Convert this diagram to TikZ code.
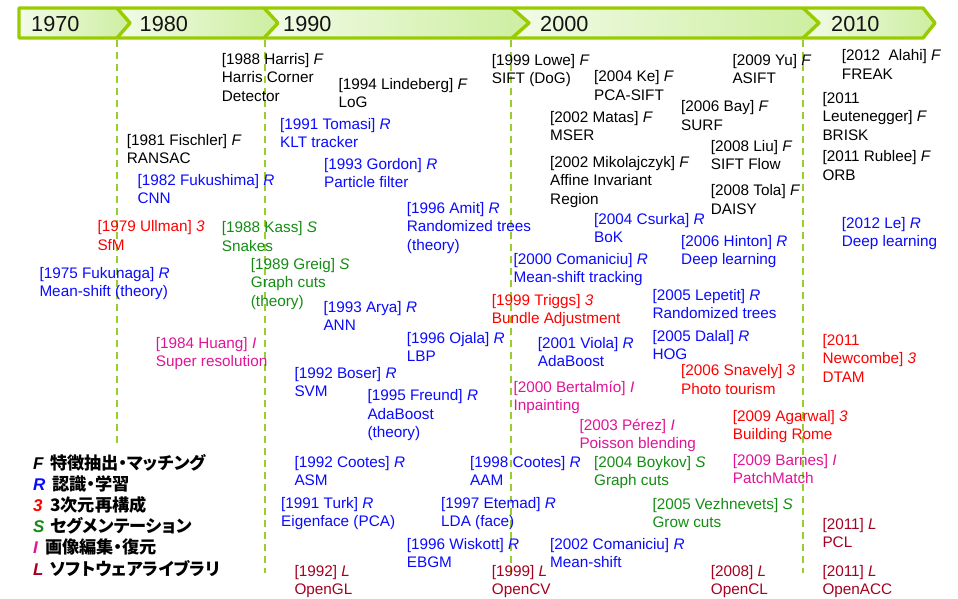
\documentclass[tikz,border=0pt]{standalone}
\usepackage{fontspec}
\setmainfont{Liberation Sans}
\newfontfamily\jp{Noto Sans CJK JP}[RawFeature=+palt]
\definecolor{barc}{RGB}{153,204,0}
\definecolor{dashc}{RGB}{154,205,50}
\definecolor{segl}{RGB}{242,251,232}
\definecolor{segr}{RGB}{205,238,160}
\definecolor{cF}{RGB}{0,0,0}
\definecolor{cR}{RGB}{10,10,255}
\definecolor{c3}{RGB}{255,0,0}
\definecolor{cS}{RGB}{20,140,20}
\definecolor{cI}{RGB}{225,20,150}
\definecolor{cL}{RGB}{165,0,33}
\tikzset{
  ent/.style={anchor=base west, align=left, inner sep=0pt, yshift=-18.6pt, font=\fontsize{15.3}{18.6}\selectfont},
  three/.style={yshift=-18.6pt},
  yr/.style={anchor=west, inner sep=0pt, font=\fontsize{21.7}{26}\selectfont, text={rgb,255:red,20;green,20;blue,20}},
  seg/.style={left color=segl, right color=segr, draw=none},
  barline/.style={draw=barc, line width=3.4pt, line join=round},
  decline/.style={draw=dashc, line width=1.8pt, dash pattern=on 7pt off 5pt},
  legl/.style={anchor=base west, inner sep=0pt, font=\fontsize{17}{17}\selectfont\bfseries\itshape},
  legt/.style={anchor=base west, inner sep=0pt, font=\jp\bfseries\fontsize{17.2}{18}\selectfont},
}
\begin{document}
\begin{tikzpicture}[x=1pt,y=-1pt]
\useasboundingbox (0,0) rectangle (958,598);
% timeline bar segments
\shade[seg] (19,8) -- (117,8) -- (130,23) -- (117,38) -- (19,38) -- cycle;
\shade[seg] (117,8) -- (264,8) -- (278,23) -- (264,38) -- (117,38) -- (130,23) -- cycle;
\shade[seg] (264,8) -- (512,8) -- (529,23) -- (512,38) -- (264,38) -- (278,23) -- cycle;
\shade[seg] (512,8) -- (803,8) -- (819,23) -- (803,38) -- (512,38) -- (529,23) -- cycle;
\shade[seg] (803,8) -- (923,8) -- (935,23) -- (923,38) -- (803,38) -- (819,23) -- cycle;
\draw[barline] (19,8) -- (923,8) -- (935,23) -- (923,38) -- (19,38) -- cycle;
\draw[barline] (117,8) -- (130,23) -- (117,38);
\draw[barline] (264,8) -- (278,23) -- (264,38);
\draw[barline] (512,8) -- (529,23) -- (512,38);
\draw[barline] (803,8) -- (819,23) -- (803,38);
% decade lines
\draw[decline] (117,40) -- (117,446);
\draw[decline] (265,40) -- (265,573);
\draw[decline] (511,40) -- (511,575);
\draw[decline] (803,40) -- (803,573);
% year labels
\node[yr] (y1970) at (31,24) {1970};
\node[yr] (y1980) at (139.5,24) {1980};
\node[yr] (y1990) at (283,24) {1990};
\node[yr] (y2000) at (540,24) {2000};
\node[yr] (y2010) at (831,24) {2010};
% F entries
\begin{scope}[every node/.style={ent, text=cF}]
\node[three] (harris) at (221.7,64) {[1988 Harris] \textit{F}\\Harris Corner\\Detector};
\node (linde) at (338.3,89) {[1994 Lindeberg] \textit{F}\\LoG};
\node (fisch) at (126.7,145) {[1981 Fischler] \textit{F}\\RANSAC};
\node (lowe) at (491.7,65) {[1999 Lowe] \textit{F}\\SIFT (DoG)};
\node (ke) at (594,81.7) {[2004 Ke] \textit{F}\\PCA-SIFT};
\node (yu) at (732.3,65) {[2009 Yu] \textit{F}\\ASIFT};
\node (alahi) at (841.7,60.7) {[2012\ \ Alahi] \textit{F}\\FREAK};
\node (bay) at (681,111.7) {[2006 Bay] \textit{F}\\SURF};
\node (matas) at (550,122.3) {[2002 Matas] \textit{F}\\MSER};
\node[three] (leut) at (822.3,103.3) {[2011\\Leutenegger] \textit{F}\\BRISK};
\node (liu) at (710.7,151) {[2008 Liu] \textit{F}\\SIFT Flow};
\node[three] (miko) at (550,167.3) {[2002 Mikolajczyk] \textit{F}\\Affine Invariant\\Region};
\node (rublee) at (822.3,161.7) {[2011 Rublee] \textit{F}\\ORB};
\node (tola) at (710.7,195.7) {[2008 Tola] \textit{F}\\DAISY};
\end{scope}
% R entries
\begin{scope}[every node/.style={ent, text=cR}]
\node (tomasi) at (280,129.3) {[1991 Tomasi] \textit{R}\\KLT tracker};
\node (gordon) at (324,169.3) {[1993 Gordon] \textit{R}\\Particle filter};
\node[three] (amit) at (406.7,213.3) {[1996 Amit] \textit{R}\\Randomized trees\\(theory)};
\node (fukushima) at (137.3,185) {[1982 Fukushima] \textit{R}\\CNN};
\node (fukunaga) at (39.3,278.3) {[1975 Fukunaga] \textit{R}\\Mean-shift (theory)};
\node (csurka) at (594,224.3) {[2004 Csurka] \textit{R}\\BoK};
\node (le) at (841.7,228.3) {[2012 Le] \textit{R}\\Deep learning};
\node (hinton) at (681,246) {[2006 Hinton] \textit{R}\\Deep learning};
\node (comtrack) at (513.3,264.3) {[2000 Comaniciu] \textit{R}\\Mean-shift tracking};
\node (arya) at (323.3,312.3) {[1993 Arya] \textit{R}\\ANN};
\node (ojala) at (406.7,343.3) {[1996 Ojala] \textit{R}\\LBP};
\node (viola) at (537.7,348.3) {[2001 Viola] \textit{R}\\AdaBoost};
\node (boser) at (294.3,378.3) {[1992 Boser] \textit{R}\\SVM};
\node[three] (freund) at (367.3,400.7) {[1995 Freund] \textit{R}\\AdaBoost\\(theory)};
\node (lepetit) at (652.3,300) {[2005 Lepetit] \textit{R}\\Randomized trees};
\node (dalal) at (652.3,341) {[2005 Dalal] \textit{R}\\HOG};
\node (cootesa) at (294.3,467.3) {[1992 Cootes] \textit{R}\\ASM};
\node (cootesb) at (470,467.3) {[1998 Cootes] \textit{R}\\AAM};
\node (turk) at (281,508.3) {[1991 Turk] \textit{R}\\Eigenface (PCA)};
\node (etemad) at (441,508.3) {[1997 Etemad] \textit{R}\\LDA (face)};
\node (wiskott) at (406.7,549) {[1996 Wiskott] \textit{R}\\EBGM};
\node (comshift) at (550,549) {[2002 Comaniciu] \textit{R}\\Mean-shift};
\end{scope}
% 3 entries
\begin{scope}[every node/.style={ent, text=c3}]
\node (ullman) at (97.3,231.7) {[1979 Ullman] \textit{3}\\SfM};
\node (triggs) at (491.7,305) {[1999 Triggs] \textit{3}\\Bundle Adjustment};
\node[three] (newcombe) at (822.3,345) {[2011\\Newcombe] \textit{3}\\DTAM};
\node (snavely) at (681,375.7) {[2006 Snavely] \textit{3}\\Photo tourism};
\node (agarwal) at (732.7,421) {[2009 Agarwal] \textit{3}\\Building Rome};
\end{scope}
% S entries
\begin{scope}[every node/.style={ent, text=cS}]
\node (kass) at (221.7,232.7) {[1988 Kass] \textit{S}\\Snakes};
\node[three] (greig) at (250.7,269) {[1989 Greig] \textit{S}\\Graph cuts\\(theory)};
\node (boykov) at (594,467.3) {[2004 Boykov] \textit{S}\\Graph cuts};
\node (vezh) at (652.3,509) {[2005 Vezhnevets] \textit{S}\\Grow cuts};
\end{scope}
% I entries
\begin{scope}[every node/.style={ent, text=cI}]
\node (huang) at (155.7,348.3) {[1984 Huang] \textit{I}\\Super resolution};
\node (berta) at (513.3,392.3) {[2000 Bertalmío] \textit{I}\\Inpainting};
\node (perez) at (579.3,430) {[2003 Pérez] \textit{I}\\Poisson blending};
\node (barnes) at (732.7,465) {[2009 Barnes] \textit{I}\\PatchMatch};
\end{scope}
% L entries
\begin{scope}[every node/.style={ent, text=cL}]
\node (opengl) at (294.3,576.3) {[1992] \textit{L}\\OpenGL};
\node (opencv) at (491.7,576.3) {[1999] \textit{L}\\OpenCV};
\node (opencl) at (710.7,576.3) {[2008] \textit{L}\\OpenCL};
\node (pcl) at (822.3,529.3) {[2011] \textit{L}\\PCL};
\node (openacc) at (822.3,576.3) {[2011] \textit{L}\\OpenACC};
\end{scope}
% legend
\node[legl, text=cF] (lgF) at (33,469) {F};
\node[legt] (ltF) at (50,469) {特徴抽出・マッチング};
\node[legl, text=cR] (lgR) at (33,490.2) {R};
\node[legt] (ltR) at (52,490.2) {認識・学習};
\node[legl, text=c3] (lg3) at (33,511.4) {3};
\node[legt] (lt3) at (50,511.4) {3次元再構成};
\node[legl, text=cS] (lgS) at (33,532.6) {S};
\node[legt] (ltS) at (50,532.6) {セグメンテーション};
\node[legl, text=cI] (lgI) at (33,553.8) {I};
\node[legt] (ltI) at (45,553.8) {画像編集・復元};
\node[legl, text=cL] (lgL) at (33,575) {L};
\node[legt] (ltL) at (50,575) {ソフトウェアライブラリ};
\end{tikzpicture}
\end{document}
